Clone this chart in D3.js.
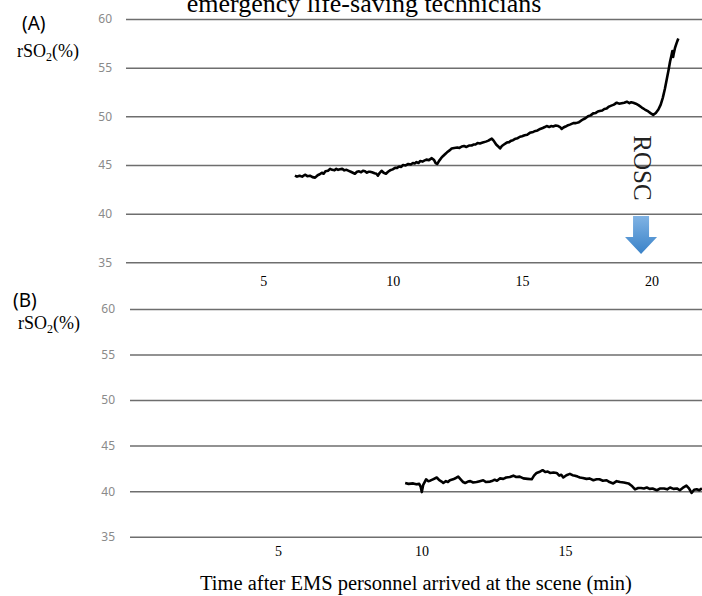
<!DOCTYPE html>
<html>
<head>
<meta charset="utf-8">
<script src="https://cdn.jsdelivr.net/npm/d3@7"></script>
<style>
  body { margin: 0; background: #fff; }
</style>
</head>
<body>
<svg id="chart" width="702" height="596"></svg>
<script>
// Panel A: rSO2 trace (minutes after EMS arrival, %)
const minutesA = [
  6.22, 6.3, 6.4, 6.5, 6.61, 6.7, 6.8, 6.9, 7.0, 7.1,
  7.18, 7.26, 7.33, 7.4, 7.5, 7.58, 7.66, 7.75, 7.82, 7.89,
  7.97, 8.05, 8.13, 8.22, 8.3, 8.38, 8.46, 8.54, 8.62, 8.7,
  8.78, 8.85, 8.93, 9.0, 9.06, 9.12, 9.2, 9.3, 9.37, 9.43,
  9.5, 9.57, 9.65, 9.74, 9.82, 9.9, 10.0, 10.09, 10.17, 10.25,
  10.33, 10.4, 10.5, 10.6, 10.7, 10.78, 10.85, 10.92, 11.0, 11.06,
  11.15, 11.22, 11.3, 11.4, 11.51, 11.6, 11.66, 11.72, 11.8, 11.87,
  11.94, 12.02, 12.1, 12.2, 12.28, 12.38, 12.5, 12.58, 12.67, 12.76,
  12.85, 12.95, 13.05, 13.12, 13.2, 13.28, 13.37, 13.48, 13.6, 13.7,
  13.76, 13.83, 13.9, 14.0, 14.08, 14.15, 14.22, 14.3, 14.41, 14.5,
  14.58, 14.65, 14.75, 14.83, 14.92, 15.0, 15.1, 15.2, 15.3, 15.43,
  15.52, 15.6, 15.7, 15.8, 15.88, 15.95, 16.05, 16.12, 16.2, 16.3,
  16.4, 16.47, 16.53, 16.6, 16.68, 16.75, 16.85, 16.98, 17.08, 17.2,
  17.28, 17.37, 17.45, 17.55, 17.65, 17.75, 17.85, 17.93, 18.0, 18.1,
  18.18, 18.27, 18.36, 18.45, 18.55, 18.66, 18.75, 18.85, 18.95, 19.05,
  19.15, 19.22, 19.3, 19.4, 19.5, 19.63, 19.75, 19.88, 19.98, 20.07,
  20.17, 20.27, 20.36, 20.44, 20.52, 20.59, 20.66, 20.72, 20.77, 20.81,
  20.84, 20.86, 20.91, 20.97, 21.04];
const rso2A = [
  43.9, 43.8, 43.9, 43.8, 44.0, 43.85, 43.9, 43.75, 43.7, 43.95,
  44.05, 44.2, 44.1, 44.35, 44.4, 44.6, 44.5, 44.45, 44.6, 44.5,
  44.55, 44.6, 44.45, 44.5, 44.4, 44.3, 44.2, 44.1, 44.3, 44.35,
  44.25, 44.4, 44.35, 44.2, 44.3, 44.3, 44.25, 44.15, 44.1, 43.9,
  44.2, 44.4, 44.2, 44.1, 44.3, 44.45, 44.55, 44.7, 44.7, 44.85,
  44.8, 45.0, 44.95, 45.1, 45.05, 45.2, 45.15, 45.3, 45.2, 45.4,
  45.35, 45.45, 45.55, 45.5, 45.7, 45.5, 45.2, 45.1, 45.45, 45.7,
  45.9, 46.1, 46.3, 46.5, 46.7, 46.75, 46.8, 46.75, 46.9, 46.95,
  46.85, 47.0, 47.0, 47.1, 47.1, 47.25, 47.2, 47.3, 47.4, 47.5,
  47.6, 47.7, 47.5, 47.1, 46.9, 46.7, 46.95, 47.1, 47.3, 47.35,
  47.5, 47.55, 47.7, 47.75, 47.9, 47.95, 48.05, 48.1, 48.3, 48.4,
  48.5, 48.55, 48.7, 48.8, 48.9, 49.0, 48.9, 49.0, 48.95, 49.05,
  49.0, 48.9, 48.7, 48.85, 48.95, 49.05, 49.15, 49.3, 49.3, 49.4,
  49.55, 49.7, 49.8, 50.0, 50.1, 50.3, 50.35, 50.5, 50.55, 50.6,
  50.75, 50.8, 51.0, 51.1, 51.2, 51.4, 51.3, 51.35, 51.4, 51.5,
  51.35, 51.45, 51.4, 51.3, 51.15, 50.9, 50.7, 50.5, 50.3, 50.15,
  50.35, 50.7, 51.2, 51.9, 52.8, 53.75, 54.7, 55.6, 56.2, 56.7,
  56.1, 56.4, 57.0, 57.5, 58.0];

// Panel B: rSO2 trace
const minutesB = [
  9.43, 9.55, 9.71, 9.82, 9.92, 9.97, 10.01, 10.06, 10.16, 10.23,
  10.3, 10.4, 10.53, 10.62, 10.7, 10.76, 10.85, 10.92, 10.99, 11.1,
  11.2, 11.28, 11.38, 11.45, 11.52, 11.62, 11.7, 11.8, 11.92, 12.03,
  12.15, 12.25, 12.39, 12.48, 12.55, 12.63, 12.73, 12.85, 12.95, 13.08,
  13.2, 13.3, 13.42, 13.55, 13.7, 13.84, 13.92, 14.01, 14.1, 14.22,
  14.32, 14.4, 14.48, 14.6, 14.71, 14.8, 14.87, 14.94, 15.05, 15.17,
  15.26, 15.35, 15.44, 15.52, 15.62, 15.75, 15.85, 15.99, 16.1, 16.2,
  16.32, 16.45, 16.55, 16.68, 16.8, 16.92, 17.05, 17.21, 17.32, 17.44,
  17.55, 17.65, 17.75, 17.85, 17.95, 18.05, 18.2, 18.32, 18.45, 18.56,
  18.66, 18.78, 18.9, 19.0, 19.1, 19.23, 19.32, 19.41, 19.5, 19.59,
  19.68, 19.77];
const rso2B = [
  40.9, 40.8, 40.85, 40.75, 40.8, 40.5, 39.9, 40.7, 41.3, 41.1,
  41.15, 41.3, 41.5, 41.2, 41.05, 40.9, 41.1, 41.0, 41.2, 41.3,
  41.45, 41.6, 41.25, 41.0, 40.9, 41.05, 41.1, 40.95, 41.0, 41.1,
  41.2, 41.0, 41.05, 41.15, 41.25, 41.15, 41.4, 41.35, 41.5, 41.55,
  41.7, 41.55, 41.6, 41.4, 41.35, 41.3, 41.7, 42.0, 42.1, 42.3,
  42.1, 42.15, 42.0, 42.05, 42.0, 41.7, 41.8, 41.5, 41.75, 41.9,
  41.75, 41.7, 41.6, 41.5, 41.45, 41.35, 41.4, 41.2, 41.3, 41.3,
  41.15, 41.2, 41.0, 40.85, 41.1, 41.0, 40.95, 40.85, 40.6, 40.2,
  40.35, 40.35, 40.3, 40.4, 40.25, 40.3, 40.1, 40.3, 40.3, 40.2,
  40.4, 40.25, 40.3, 40.1, 40.35, 40.6, 40.3, 39.8, 40.15, 40.2,
  40.1, 40.3];

const yTicks = [35, 40, 45, 50, 55, 60];
const xTicksA = [5, 10, 15, 20];
const xTicksB = [5, 10, 15];
const roscMinute = 19.6;

const serif = "'Liberation Serif','Times New Roman',serif";
const sans = "'Noto Sans','DejaVu Sans',sans-serif";

const svg = d3.select("#chart");

// blue gradient for the ROSC arrow
const grad = svg.append("defs").append("linearGradient")
  .attr("id", "arrowFill")
  .attr("x1", 0).attr("y1", 0).attr("x2", 0).attr("y2", 1);
grad.append("stop").attr("offset", "0%").attr("stop-color", "#80b3e4");
grad.append("stop").attr("offset", "100%").attr("stop-color", "#3a82c8");

function drawPanel(p) {
  const x = d3.scaleLinear().domain([0, p.xEnd]).range([p.x0, p.x1]);
  const y = d3.scaleLinear().domain([35, 60]).range([p.yBottom, p.yTop]);

  // horizontal gridlines with gray labels
  const yAxis = svg.append("g")
    .attr("transform", `translate(${p.gridLeft},0)`)
    .call(d3.axisLeft(y).tickValues(yTicks).tickSize(-(702 - p.gridLeft)).tickPadding(p.pad));
  yAxis.select(".domain").remove();
  yAxis.selectAll(".tick line").attr("stroke", "#6e6e6e").attr("stroke-width", 1.5);
  yAxis.selectAll(".tick text")
    .attr("fill", "#8a8a8a")
    .style("font-family", sans)
    .style("font-size", "12px");

  // minute labels, no tick marks
  const xAxis = svg.append("g")
    .attr("transform", `translate(0,${p.xLabelTop})`)
    .call(d3.axisBottom(x).tickValues(p.xTicks).tickSize(0).tickPadding(0));
  xAxis.select(".domain").remove();
  xAxis.selectAll(".tick text")
    .attr("fill", "#000")
    .style("font-family", serif)
    .style("font-size", "14px");

  const line = d3.line()
    .x(d => x(d[0]))
    .y(d => y(d[1]));

  svg.append("path")
    .datum(d3.zip(p.minutes, p.values))
    .attr("d", line)
    .attr("fill", "none")
    .attr("stroke", "#000")
    .attr("stroke-width", 2.6)
    .attr("stroke-linejoin", "round");

  // panel letter and y label
  svg.append("text")
    .attr("x", p.letterX).attr("y", p.letterY)
    .style("font-family", sans).style("font-size", "19px")
    .text(p.letter);

  const yl = svg.append("text")
    .attr("x", p.labelX).attr("y", p.labelY)
    .style("font-family", serif).style("font-size", "18px");
  yl.append("tspan").text("rSO");
  yl.append("tspan").attr("dy", 4).style("font-size", "12px").text("2");
  yl.append("tspan").attr("dy", -4).text("(%)");

  return { x, y };
}

const A = drawPanel({
  xEnd: 20, x0: 134, x1: 651.4, yBottom: 262.3, yTop: 19,
  gridLeft: 126, pad: 14, xLabelTop: 276, xTicks: xTicksA,
  minutes: minutesA, values: rso2A,
  letter: "(A)", letterX: 22, letterY: 30, labelX: 17, labelY: 57
});

drawPanel({
  xEnd: 15, x0: 134.5, x1: 565, yBottom: 536.7, yTop: 309,
  gridLeft: 130, pad: 15, xLabelTop: 546, xTicks: xTicksB,
  minutes: minutesB, values: rso2B,
  letter: "(B)", letterX: 13, letterY: 307, labelX: 18, labelY: 329
});

// ROSC marker in panel A
const cx = A.x(roscMinute);
const arrowTop = A.y(39.75), arrowNeck = A.y(37.6), arrowTip = A.y(35.85);
svg.append("path")
  .attr("d", `M${cx - 8},${arrowTop}H${cx + 8}V${arrowNeck}H${cx + 16}L${cx},${arrowTip}L${cx - 16},${arrowNeck}H${cx - 8}Z`)
  .attr("fill", "url(#arrowFill)");

svg.append("text")
  .attr("transform", `translate(${cx + 1},${A.y(44.7)}) rotate(90)`)
  .attr("text-anchor", "middle")
  .attr("dominant-baseline", "central")
  .style("font-family", serif)
  .style("font-size", "25px")
  .attr("fill", "#222")
  .text("ROSC");

// title (cut off at the top, as in the source figure) and x label
svg.append("text")
  .attr("x", 364).attr("y", 12)
  .attr("text-anchor", "middle")
  .style("font-family", serif).style("font-size", "26px")
  .text("emergency life-saving technicians");

svg.append("text")
  .attr("x", 416).attr("y", 590)
  .attr("text-anchor", "middle")
  .style("font-family", serif).style("font-size", "20.5px")
  .text("Time after EMS personnel arrived at the scene (min)");
</script>
</body>
</html>
